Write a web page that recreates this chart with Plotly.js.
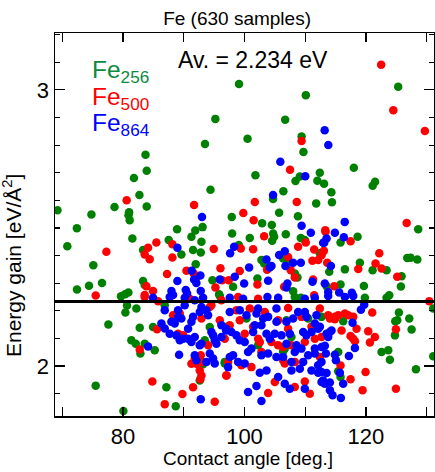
<!DOCTYPE html>
<html><head><meta charset="utf-8">
<script src="https://cdn.plot.ly/plotly-3.0.1.min.js"></script>
<style>html,body{margin:0;padding:0;background:#fff}#chart{width:435px;height:472px}</style>
</head><body><div id="chart"></div>
<script>
// Fe256 (green)
const gx = [99.1,95.2,100.5,93.5,83.7,83.9,81.8,94.4,82.7,78.6,83.9,81.0,80.9,81.1,74.8,69.2,72.4,97.9,88.9,91.9,93.1,
125.3,110.1,106.7,109.4,109.7,118.0,101.8,112.4,109.1,108.4,112.0,113.1,121.5,121.1,106.4,114.3,104.7,111.8,114.4,105.7,108.8,102.9,104.5,128.6,
70.83,75.11,72.42,74.40,76.54,79.67,80.33,80.88,80.66,80.39,77.59,75.50,80.06,
81.54,87.52,91.26,92.91,91.53,92.80,89.61,83.30,91.97,94.72,95.82,83.30,83.57,
82.20,82.75,84.94,81.37,82.09,83.57,82.86,85.22,93.46,94.28,97.0,93.18,96.75,92.63,87.14,88.68,95.93,86.87,
97.96,100.87,104.71,104.88,104.55,106.80,109.27,109.93,112.40,99.06,106.36,102.79,103.23,107.18,108.28,108.72,102.13,108.01,98.12,
118.62,115.81,126.80,127.35,128.45,113.95,119.0,121.09,123.39,116.53,125.86,125.75,119.66,115.81,113.51,
116.25,131.08,125.42,125.15,124.82,127.13,127.51,124.77,115.43,122.57,123.67,123.94,131.08,128.23,115.43,115.81,119.82,123.39,123.83,
108.28,109.27,100.32,106.91,110.48,112.68,107.73,102.24,106.63,96.75,106.36];
const gy = [3.021,2.895,2.823,2.804,2.765,2.707,2.681,2.638,2.619,2.576,2.578,2.557,2.546,2.528,2.549,2.564,2.499,2.540,2.495,2.491,2.503,
3.011,2.981,2.892,2.831,2.775,2.718,2.691,2.700,2.686,2.670,2.671,2.660,2.667,2.653,2.633,2.629,2.605,2.589,2.593,2.555,2.542,2.517,2.511,2.495,
2.434,2.365,2.277,2.291,2.301,2.253,2.260,2.266,2.219,2.194,2.150,1.929,1.837,
2.462,2.456,2.468,2.450,2.420,2.411,2.404,2.420,2.369,2.311,2.260,2.308,2.293,
2.208,2.139,2.141,2.093,2.081,2.081,2.045,2.057,2.093,2.141,2.141,2.006,2.015,1.948,1.923,1.854,2.254,2.220,
2.480,2.464,2.480,2.468,2.454,2.477,2.464,2.456,2.408,2.438,2.389,2.384,2.371,2.377,2.335,2.321,2.317,2.271,2.287,
2.468,2.447,2.391,2.392,2.386,2.341,2.374,2.347,2.347,2.350,2.325,2.288,2.290,2.295,2.289,
2.162,2.208,2.194,2.166,2.162,2.172,2.132,2.111,2.051,2.051,2.057,2.023,2.035,1.988,1.981,1.960,2.247,2.247,2.256,
2.250,2.247,2.172,2.166,2.172,2.178,2.105,2.075,2.063,2.009,2.053];

// Fe500 (red)
const rx = [80.6,91.7,99.8,
122.5,124.5,129.7,109.4,107.5,101.7,108.6,101.5,126.7,113.3,
77.26,75.50,
85.49,88.13,84.12,83.57,84.39,88.13,94.94,87.25,90.44,96.04,83.85,84.94,91.64,92.08,95.21,96.31,83.57,
82.75,85.60,88.24,88.68,89.34,92.91,94.28,95.93,89.06,89.89,94.00,92.80,92.63,91.81,91.26,92.08,92.91,92.63,92.91,92.74,97.03,84.83,91.53,89.78,86.87,95.10,85.77,90.98,94.55,96.20,83.57,
103.23,110.09,108.83,111.47,99.39,101.42,107.18,111.19,112.13,103.72,99.22,107.62,108.28,97.41,102.13,106.52,111.30,112.68,
113.34,117.46,113.07,122.19,113.62,121.58,122.57,118.73,125.15,114.77,
112.41,113.78,114.88,115.43,116.53,117.08,117.90,114.88,114.06,121.03,130.42,124.93,115.98,118.45,120.37,121.47,120.65,117.46,117.90,118.18,112.68,112.41,115.81,119.93,117.46,119.44,124.93,
98.95,102.24,107.18,111.47,98.67,100.87,103.34,105.54,107.18,109.38,111.03,99.22,101.42,100.04,102.24,102.52,104.44,105.54,106.36,107.73,109.93,111.58,97.57,96.75,102.79,106.36,97.30,99.50,101.14,104.99,108.28,109.93,110.75,103.89,97.02,106.63,108.28];
const ry = [2.600,2.583,2.554,
3.091,2.926,2.851,2.815,2.711,2.594,2.594,2.528,2.518,2.492,
2.414,2.255,
2.447,2.441,2.428,2.404,2.387,2.393,2.424,2.333,2.345,2.354,2.289,2.272,2.335,2.321,2.284,2.311,2.257,
2.060,2.133,2.184,2.172,2.190,2.172,2.214,2.166,2.117,2.111,2.075,2.039,2.033,2.027,2.008,2.008,2.015,1.984,1.966,1.952,1.966,1.944,1.923,1.899,1.862,1.871,2.235,2.244,2.220,2.238,2.250,
2.470,2.447,2.432,2.422,2.426,2.423,2.395,2.381,2.384,2.349,2.344,2.347,2.321,2.311,2.295,2.287,2.313,2.401,
2.486,2.452,2.417,2.408,2.374,2.371,2.353,2.351,2.323,2.289,
2.208,2.184,2.178,2.184,2.190,2.184,2.178,2.169,2.172,2.194,2.235,2.133,2.129,2.135,2.126,2.105,2.085,2.109,2.099,2.090,2.105,2.033,2.002,1.978,1.952,1.912,1.918,
2.250,2.244,2.210,2.256,2.202,2.208,2.196,2.166,2.135,2.178,2.142,2.166,2.142,2.117,2.099,2.087,2.087,2.075,2.069,2.075,2.087,2.099,2.148,2.099,2.051,2.021,2.015,2.003,1.996,1.942,1.924,1.944,1.900,1.902,1.966,2.009,2.015];

// Fe864 (blue)
const bx = [93.0,
113.2,113.8,105.9,110.0,104.7,116.5,109.4,
88.95,91.31,92.74,91.70,92.08,88.95,95.93,92.80,90.33,90.55,87.97,88.24,
84.12,86.32,86.87,87.96,88.51,86.87,89.06,90.16,89.06,89.61,91.26,91.53,92.63,92.91,94.0,93.73,90.71,87.69,88.79,89.34,89.89,90.71,91.81,91.26,92.63,92.91,94.83,95.10,95.38,96.20,94.55,96.20,96.97,89.23,91.81,92.08,94.28,94.83,95.10,93.73,97.30,92.80,84.94,87.69,90.16,91.81,93.18,
110.92,98.29,97.63,105.70,106.63,108.01,109.27,103.62,104.44,104.16,100.76,106.74,98.40,99.94,103.89,107.07,106.91,111.19,113.22,112.95,
114.88,113.51,113.12,116.36,114.22,113.78,115.59,117.68,
119.17,117.79,119.71,112.41,113.51,114.06,114.33,113.78,113.23,113.40,114.88,115.05,118.18,117.19,113.51,112.68,115.70,112.68,113.23,114.06,116.25,114.06,114.50,115.87,117.90,113.78,116.53,
97.57,99.77,103.78,105.54,109.93,111.58,97.57,99.22,100.32,101.97,102.24,103.07,103.89,105.26,105.26,106.91,108.01,108.83,109.93,110.20,111.85,111.58,97.02,97.85,98.67,99.22,100.04,101.42,101.69,102.79,103.62,104.16,104.99,106.09,107.46,108.56,109.66,110.20,111.03,112.13,112.68,111.58,109.38,106.91,101.14,100.59,98.12,97.57,98.95,100.04,102.79,103.89,105.26,106.36,107.73,108.28,110.48,111.58,109.66,112.13,112.68,111.03,109.11,107.73,105.54,103.62,102.52,100.59,101.97,102.79,106.63,107.46,109.93,112.13,112.95];
const by = [2.540,
2.854,2.800,2.740,2.687,2.619,2.522,2.508,
2.428,2.345,2.328,2.313,2.301,2.308,2.313,2.272,2.275,2.263,2.272,2.257,
2.071,2.154,2.136,2.160,2.154,2.202,2.202,2.220,2.178,2.172,2.160,2.178,2.196,2.214,2.184,2.202,2.135,2.117,2.111,2.093,2.099,2.099,2.105,2.087,2.075,2.081,2.111,2.093,2.081,2.105,2.123,2.148,2.129,2.041,2.039,2.021,2.045,2.027,2.009,2.015,1.996,1.880,2.247,2.250,2.247,2.238,2.247,
2.483,2.432,2.408,2.402,2.416,2.374,2.374,2.386,2.362,2.357,2.357,2.362,2.323,2.299,2.309,2.299,2.284,2.305,2.299,2.446,
2.483,2.462,2.446,2.466,2.362,2.268,2.266,2.265,
2.204,2.157,2.222,2.142,2.117,2.123,2.129,2.105,2.073,2.045,2.041,2.021,2.065,2.036,1.975,1.978,1.976,1.942,1.936,1.940,1.936,1.912,1.894,1.884,2.254,2.254,2.250,
2.247,2.244,2.250,2.247,2.244,2.247,2.196,2.202,2.184,2.190,2.208,2.172,2.178,2.208,2.160,2.160,2.172,2.196,2.196,2.178,2.184,2.154,2.135,2.123,2.111,2.093,2.087,2.123,2.148,2.148,2.117,2.099,2.117,2.111,2.117,2.075,2.123,2.111,2.123,2.135,2.069,2.063,2.063,2.081,2.063,2.051,2.039,2.033,2.015,2.009,2.039,2.045,2.033,2.033,2.015,2.051,2.039,2.045,2.015,2.003,2.015,1.984,1.990,1.984,1.960,1.984,1.976,1.906,1.928,1.873,1.936,1.918,1.918,1.976,1.948];

const average = 2.234;
const seriesNames = ['Fe<sub>256</sub>', 'Fe<sub>500</sub>', 'Fe<sub>864</sub>'];
const xTickVals = [70, 80, 90, 100, 110, 120, 130];
const xTickText = ['', '80', '', '100', '', '120', ''];
const yTickVals = [2, 3];
const yTickText = ['2', '3'];

const GREEN = '#008000', RED = '#ff0000', BLUE = '#0000ff';
const FONT = 'Liberation Sans, Arial, sans-serif';
const mk = (c) => ({color: c, size: 8.5, line: {width: 0}});

const traces = [
  {x: gx, y: gy, type: 'scatter', mode: 'markers', marker: mk(GREEN), name: seriesNames[0], hoverinfo: 'none'},
  {x: rx, y: ry, type: 'scatter', mode: 'markers', marker: mk(RED), name: seriesNames[1], hoverinfo: 'none'},
  {x: bx, y: by, type: 'scatter', mode: 'markers', marker: mk(BLUE), name: seriesNames[2], hoverinfo: 'none'}
];

const axisCommon = {
  showgrid: false, zeroline: false, showline: true, linecolor: '#000', linewidth: 1.5,
  mirror: 'ticks', ticks: 'inside', tickcolor: '#000', tickwidth: 1.2,
  tickfont: {family: FONT, size: 22, color: '#000'}
};

const layout = {
  width: 435, height: 472,
  margin: {l: 55, r: 1, t: 33, b: 56},
  paper_bgcolor: '#fff', plot_bgcolor: '#fff',
  showlegend: false,
  font: {family: FONT, color: '#000'},
  title: {text: 'Fe (630 samples)', font: {family: FONT, size: 19, color: '#000'},
          x: 0.545, xanchor: 'center', y: 0.962, yanchor: 'middle'},
  xaxis: Object.assign({}, axisCommon, {
    range: [68.8, 131.2], tickmode: 'array', tickvals: xTickVals, ticktext: xTickText, ticklen: 9
  }),
  yaxis: Object.assign({}, axisCommon, {
    range: [1.819, 3.206], tickmode: 'array', tickvals: yTickVals, ticktext: yTickText, ticklen: 10,
    minor: {dtick: 0.1, ticks: 'inside', ticklen: 5, tickcolor: '#000', tickwidth: 1.2, showgrid: false}
  }),
  shapes: [{type: 'line', xref: 'paper', x0: 0, x1: 1, yref: 'y', y0: average, y1: average,
            line: {color: '#000', width: 3}, layer: 'above'}],
  annotations: [
    {text: 'Av. = ' + average.toFixed(3) + ' eV', xref: 'paper', yref: 'paper', x: 0.522, y: 0.929,
     xanchor: 'center', yanchor: 'middle', showarrow: false, font: {family: FONT, size: 23, color: '#000'}},
    {text: seriesNames[0], xref: 'paper', yref: 'paper', x: 0.092, y: 0.900, xanchor: 'left', yanchor: 'middle',
     showarrow: false, font: {family: FONT, size: 24.5, color: '#0c8a40'}},
    {text: seriesNames[1], xref: 'paper', yref: 'paper', x: 0.092, y: 0.830, xanchor: 'left', yanchor: 'middle',
     showarrow: false, font: {family: FONT, size: 24.5, color: RED}},
    {text: seriesNames[2], xref: 'paper', yref: 'paper', x: 0.092, y: 0.762, xanchor: 'left', yanchor: 'middle',
     showarrow: false, font: {family: FONT, size: 24.5, color: BLUE}},
    {text: 'Contact angle [deg.]', xref: 'paper', yref: 'paper', x: 0.508, y: -0.110, xanchor: 'center', yanchor: 'middle',
     showarrow: false, font: {family: FONT, size: 19, color: '#000'}},
    {text: 'Energy gain [eV/Å<sup>2</sup>]', xref: 'paper', yref: 'paper', x: -0.113, y: 0.392, xanchor: 'center', yanchor: 'middle',
     textangle: -90, showarrow: false, font: {family: FONT, size: 21, color: '#000'}}
  ]
};

Plotly.newPlot('chart', traces, layout, {staticPlot: true, displayModeBar: false});
</script></body></html>
